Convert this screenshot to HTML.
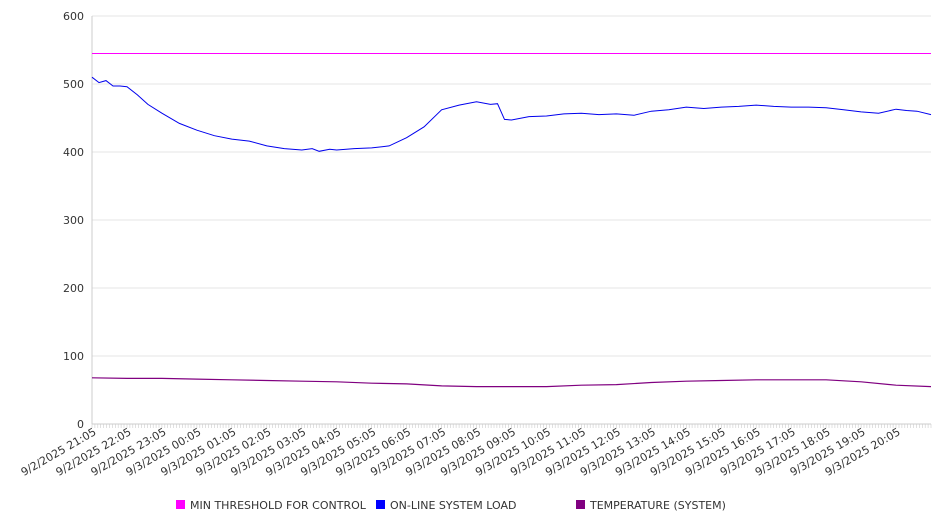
<!DOCTYPE html>
<html><head><meta charset="utf-8"><style>
html,body{margin:0;padding:0;background:#fff;}
svg{display:block;font-family:"DejaVu Sans","Liberation Sans",sans-serif;}
</style></head><body>
<svg id="chart" width="946" height="526">
<g id="grid"></g>
<g id="axes"></g>
<g id="series"></g>
<g id="legend"></g>
</svg>
<script>
const yTicks=[0,100,200,300,400,500,600];
const xLabels=["9/2/2025 21:05","9/2/2025 22:05","9/2/2025 23:05","9/3/2025 00:05","9/3/2025 01:05","9/3/2025 02:05","9/3/2025 03:05","9/3/2025 04:05","9/3/2025 05:05","9/3/2025 06:05","9/3/2025 07:05","9/3/2025 08:05","9/3/2025 09:05","9/3/2025 10:05","9/3/2025 11:05","9/3/2025 12:05","9/3/2025 13:05","9/3/2025 14:05","9/3/2025 15:05","9/3/2025 16:05","9/3/2025 17:05","9/3/2025 18:05","9/3/2025 19:05","9/3/2025 20:05"];
const loadHours=[0,0.2,0.4,0.6,0.8,1,1.3,1.6,2,2.5,3,3.5,4,4.5,5,5.5,6,6.3,6.5,6.8,7,7.5,8,8.5,9,9.5,10,10.5,11,11.4,11.6,11.8,12,12.5,13,13.5,14,14.5,15,15.5,16,16.5,17,17.5,18,18.5,19,19.5,20,20.5,21,21.5,22,22.5,23,23.3,23.6,24];
const loadValues=[510,502,505,497,497,496,484,470,457,442,432,424,419,416,409,405,403,405,401,404,403,405,406,409,421,437,462,469,474,470,471,448,447,452,453,456,457,455,456,454,460,462,466,464,466,467,469,467,466,466,465,462,459,457,463,461,460,455];
const tempHours=[0,1,2,3,4,5,6,7,8,9,10,11,12,13,14,15,16,17,18,19,20,21,22,23,24];
const tempValues=[68,67,67,66,65,64,63,62,60,59,56,55,55,55,57,58,61,63,64,65,65,65,62,57,55];
const thresholdValue=545;
const NS="http://www.w3.org/2000/svg";
const X0=92,X1=931,Y0=424,Y1=16,HRS=24;
const xs=h=>X0+(X1-X0)*h/HRS;
const ys=v=>Y0-(Y0-Y1)*v/600;
function mk(tag,attrs,parent){const e=document.createElementNS(NS,tag);for(const k in attrs)e.setAttribute(k,attrs[k]);parent.appendChild(e);return e;}
const grid=document.getElementById('grid'),axes=document.getElementById('axes'),series=document.getElementById('series'),legend=document.getElementById('legend');
yTicks.forEach(v=>{
  if(v>0){const l=mk('line',{x1:X0,x2:X1,y1:ys(v),y2:ys(v),stroke:'#e6e6e6','stroke-width':1,'shape-rendering':'crispEdges'},grid);
  
  }
  const t=mk('text',{x:X0-8,y:ys(v)+4,'text-anchor':'end','font-size':11,fill:'#333'},axes);
  t.textContent=v;
  
  
});
const ya=mk('line',{x1:X0,x2:X0,y1:Y1,y2:Y0,stroke:'#ccc','shape-rendering':'crispEdges'},axes);


const xa=mk('line',{x1:X0,x2:X1,y1:Y0,y2:Y0,stroke:'#ccc','shape-rendering':'crispEdges'},axes);


let d='';for(let i=0;i<=HRS*12;i++){const x=xs(i/12).toFixed(1);d+=`M${x} ${Y0}V${Y0+4}`;}
const mt=mk('path',{d:d,stroke:'#ccc','stroke-width':0.6},axes);


xLabels.forEach((s,i)=>{
  const x=xs(i)+5,y=Y0+10;
  const t=mk('text',{x:x,y:y,'text-anchor':'end','font-size':11,fill:'#333',transform:`rotate(-30 ${x} ${y})`},axes);
  t.textContent=s;
  
  
});
const th=mk('line',{x1:X0,x2:X1,y1:ys(thresholdValue),y2:ys(thresholdValue),stroke:'#ff00ff','stroke-width':1,'shape-rendering':'crispEdges'},series);


const lp=mk('polyline',{points:loadHours.map((h,i)=>xs(h).toFixed(1)+','+ys(loadValues[i]).toFixed(1)).join(' '),fill:'none',stroke:'#0000ee','stroke-width':1},series);


const tp=mk('polyline',{points:tempHours.map((h,i)=>xs(h).toFixed(1)+','+ys(tempValues[i]).toFixed(1)).join(' '),fill:'none',stroke:'#800080','stroke-width':1.2},series);


const legItems=[["MIN THRESHOLD FOR CONTROL","#ff00ff",176],["ON-LINE SYSTEM LOAD","#0000ff",376],["TEMPERATURE (SYSTEM)","#800080",576]];
legItems.forEach(([n,c,x])=>{
  const g=mk('g',{},legend);
  
  
  mk('rect',{x:x,y:500,width:9,height:9,fill:c},g);
  const t=mk('text',{x:x+14,y:509,'font-size':11,fill:'#333'},g);
  t.textContent=n;
});
</script>
</body></html>
